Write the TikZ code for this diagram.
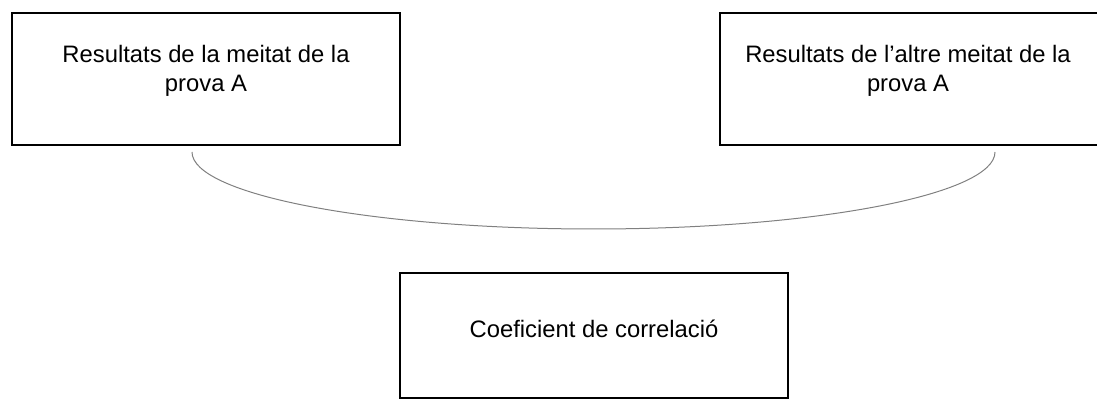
\documentclass[tikz,border=0pt]{standalone}
\usepackage{fontspec}
\setmainfont{Liberation Sans}
\begin{document}
\begin{tikzpicture}[x=0.5pt,y=-0.5pt,
  box/.style={draw=black,line width=1pt,rectangle,inner sep=0pt,outer sep=0pt,anchor=north west},
  lbl/.style={font=\fontsize{11.9}{14.25}\selectfont,align=center,inner sep=0pt,text=black},
  link/.style={draw=black!50,line width=0.5pt}]
\useasboundingbox (0,0) rectangle (1097,400);
\clip (0,0) rectangle (1097,400);
\node[box,minimum width=194pt,minimum height=66pt] (left) at (12,13) {};
\node[box,minimum width=189pt,minimum height=66pt] (right) at (720,13) {};
\node[box,minimum width=194pt,minimum height=62.5pt] (bottom) at (400,273) {};
\node[lbl,anchor=north] (lefttext) at (206,45) {Resultats de la meitat de la\\prova A};
\node[lbl,anchor=north] (righttext) at (908,45) {Resultats de l’altre meitat de la\\prova A};
\node[lbl,anchor=base] (bottomtext) at (594,338) {Coeficient de correlació};
\coordinate (ca) at (192,152);
\coordinate (cm) at (593.5,229);
\coordinate (cb) at (995,152);
\draw[link] (ca) .. controls (192,194.5) and (372,229) .. (cm)
  .. controls (815,229) and (995,194.5) .. (cb);
\end{tikzpicture}
\end{document}
